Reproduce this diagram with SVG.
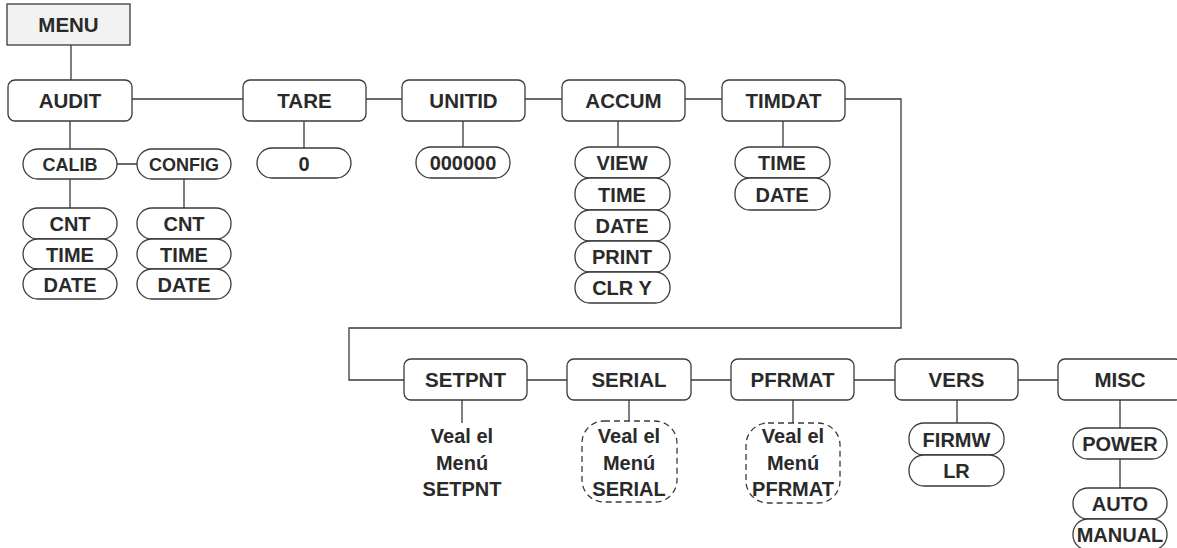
<svg xmlns="http://www.w3.org/2000/svg" width="1177" height="548" viewBox="0 0 1177 548">
<style>
.bx{fill:#fff;stroke:#3a3a3a;stroke-width:1.3}
.pl{fill:#fff;stroke:#3a3a3a;stroke-width:1.3}
.ds{fill:none;stroke:#3a3a3a;stroke-width:1.3;stroke-dasharray:6 4}
.t{font-family:"Liberation Sans",Arial,sans-serif;font-weight:bold;font-size:20.5px;fill:#2a2a2a;text-anchor:middle}
.p{font-size:20px}
.s{font-size:18px}
.c{fill:none;stroke:#3a3a3a;stroke-width:1.3}
</style>
<rect width="1177" height="548" fill="#fff"/>
<g id="connectors" class="c">
<path d="M71 45V80"/>
<path d="M132 99H243M366 99H402M525 99H562M685 99H722M845 99H901V328H349V380H404"/>
<path d="M527 380H567M691 380H731M854 380H895M1018 380H1058"/>
<path d="M70 121V149M117 164H137M70 179V208M184 179V208"/>
<path d="M304 121V148M463 121V147M618 121V147M783 121V147"/>
<path d="M462 400V423M629 400V421M793 400V423M957 400V423M1120 400V428M1120 459V488"/>
</g>
<g id="menu"><rect x="7" y="4" width="123" height="41" fill="#f2f2f2" stroke="#3a3a3a" stroke-width="1.3"/><text class="t" x="68.5" y="32">MENU</text></g>
<g id="audit"><rect class="bx" x="8" y="80" width="124" height="41" rx="7"/><text class="t" x="70" y="108">AUDIT</text></g>
<g id="tare"><rect class="bx" x="243" y="80" width="123" height="41" rx="7"/><text class="t" x="304.5" y="108">TARE</text></g>
<g id="unitid"><rect class="bx" x="402" y="80" width="123" height="41" rx="7"/><text class="t" x="463.5" y="108">UNITID</text></g>
<g id="accum"><rect class="bx" x="562" y="80" width="123" height="41" rx="7"/><text class="t" x="623.5" y="108">ACCUM</text></g>
<g id="timdat"><rect class="bx" x="722" y="80" width="123" height="41" rx="7"/><text class="t" x="783.5" y="108">TIMDAT</text></g>
<g id="calib"><rect class="pl" x="23" y="149" width="94" height="30" rx="15"/><text class="t s" x="70" y="170.5">CALIB</text></g>
<g id="config"><rect class="pl" x="137" y="149" width="94" height="30" rx="15"/><text class="t s" x="184" y="170.5">CONFIG</text></g>
<g id="calib-cnt"><rect class="pl" x="23" y="208" width="94" height="31" rx="15"/><text class="t p" x="70" y="231">CNT</text></g>
<g id="calib-time"><rect class="pl" x="23" y="239" width="94" height="30" rx="15"/><text class="t p" x="70" y="261.5">TIME</text></g>
<g id="calib-date"><rect class="pl" x="23" y="269" width="94" height="30" rx="15"/><text class="t p" x="70" y="291.5">DATE</text></g>
<g id="config-cnt"><rect class="pl" x="137" y="208" width="94" height="31" rx="15"/><text class="t p" x="184" y="231">CNT</text></g>
<g id="config-time"><rect class="pl" x="137" y="239" width="94" height="30" rx="15"/><text class="t p" x="184" y="261.5">TIME</text></g>
<g id="config-date"><rect class="pl" x="137" y="269" width="94" height="30" rx="15"/><text class="t p" x="184" y="291.5">DATE</text></g>
<g id="tare-0"><rect class="pl" x="257" y="148" width="94" height="30" rx="15"/><text class="t p" x="304" y="170.5">0</text></g>
<g id="unitid-0"><rect class="pl" x="416" y="147" width="94" height="31" rx="15"/><text class="t p" x="463" y="170">000000</text></g>
<g id="accum-view"><rect class="pl" x="575" y="147" width="95" height="31" rx="15"/><text class="t p" x="622" y="170">VIEW</text></g>
<g id="accum-time"><rect class="pl" x="575" y="178" width="95" height="32" rx="15"/><text class="t p" x="622" y="201.5">TIME</text></g>
<g id="accum-date"><rect class="pl" x="575" y="210" width="95" height="31" rx="15"/><text class="t p" x="622" y="233">DATE</text></g>
<g id="accum-print"><rect class="pl" x="575" y="241" width="95" height="31" rx="15"/><text class="t p" x="622" y="264">PRINT</text></g>
<g id="accum-clr"><rect class="pl" x="575" y="272" width="95" height="31" rx="15"/><text class="t p" x="622" y="295">CLR Y</text></g>
<g id="timdat-time"><rect class="pl" x="735" y="147" width="95" height="31" rx="15"/><text class="t p" x="782" y="170">TIME</text></g>
<g id="timdat-date"><rect class="pl" x="735" y="178" width="95" height="32" rx="15"/><text class="t p" x="782" y="201.5">DATE</text></g>
<g id="setpnt"><rect class="bx" x="404" y="359" width="123" height="41" rx="7"/><text class="t" x="465.5" y="387">SETPNT</text></g>
<g id="serial"><rect class="bx" x="567" y="359" width="124" height="41" rx="7"/><text class="t" x="629" y="387">SERIAL</text></g>
<g id="pfrmat"><rect class="bx" x="731" y="359" width="123" height="41" rx="7"/><text class="t" x="792.5" y="387">PFRMAT</text></g>
<g id="vers"><rect class="bx" x="895" y="359" width="123" height="41" rx="7"/><text class="t" x="956.5" y="387">VERS</text></g>
<g id="misc"><rect class="bx" x="1058" y="359" width="124" height="41" rx="7"/><text class="t" x="1120" y="387">MISC</text></g>
<g id="setpnt-ref"><text class="t p" x="462" y="443">Veal el</text><text class="t p" x="462" y="470">Menú</text><text class="t p" x="462" y="496">SETPNT</text></g>
<g id="serial-ref"><rect class="ds" x="582" y="421" width="95" height="81" rx="22"/><text class="t p" x="629" y="443">Veal el</text><text class="t p" x="629" y="470">Menú</text><text class="t p" x="629" y="496">SERIAL</text></g>
<g id="pfrmat-ref"><rect class="ds" x="746" y="423" width="94" height="80" rx="22"/><text class="t p" x="793" y="443">Veal el</text><text class="t p" x="793" y="470">Menú</text><text class="t p" x="793" y="496">PFRMAT</text></g>
<g id="vers-firmw"><rect class="pl" x="909" y="423" width="95" height="32" rx="15"/><text class="t p" x="956.5" y="446.5">FIRMW</text></g>
<g id="vers-lr"><rect class="pl" x="909" y="455" width="95" height="31" rx="15"/><text class="t p" x="956.5" y="478">LR</text></g>
<g id="misc-power"><rect class="pl" x="1073" y="428" width="94" height="31" rx="15"/><text class="t p" x="1120" y="451">POWER</text></g>
<g id="misc-auto"><rect class="pl" x="1073" y="488" width="94" height="31" rx="15"/><text class="t p" x="1120" y="511">AUTO</text></g>
<g id="misc-manual"><rect class="pl" x="1073" y="519" width="94" height="31" rx="15"/><text class="t p" x="1120" y="542">MANUAL</text></g>
</svg>
